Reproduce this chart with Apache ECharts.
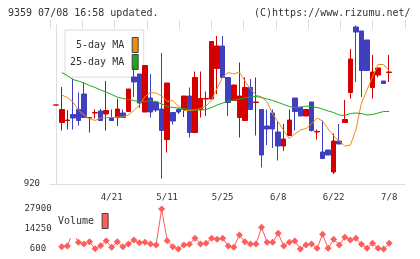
<!DOCTYPE html>
<html>
<head>
<meta charset="utf-8">
<script src="https://cdn.jsdelivr.net/npm/echarts@6/dist/echarts.min.js"></script>
<style>
html, body { margin: 0; padding: 0; background: #fff; }
#chart { width: 420px; height: 259px; }
</style>
</head>
<body>
<div id="chart"></div>
<script>
// trading days shown on the chart (index = x position)
const dates = [
    '4/7', '4/8', '4/9', '4/10', '4/13', '4/14', '4/15', '4/16', '4/17', '4/20',
    '4/21', '4/22', '4/23', '4/24', '4/27', '4/28', '4/30', '5/1', '5/7', '5/8',
    '5/11', '5/12', '5/13', '5/14', '5/15', '5/18', '5/19', '5/20', '5/21', '5/22',
    '5/25', '5/26', '5/27', '5/28', '5/29', '6/1', '6/2', '6/3', '6/4', '6/5',
    '6/8', '6/9', '6/10', '6/11', '6/12', '6/15', '6/16', '6/17', '6/18', '6/19',
    '6/22', '6/23', '6/24', '6/25', '6/26', '6/29', '6/30', '7/1', '7/2', '7/3',
    '7/8'
];
const labelDays = [10, 20, 30, 40, 50, 60];

// [open, close, low, high]
const candles = [
    [1078, 1078, 1078, 1078], [1043, 1069, 1027, 1114], [1047, 1048, 1029, 1068], [1059, 1052, 1029, 1131],
    [1069, 1047, 1037, 1103], [1100, 1053, 1053, 1123], [1052, 1053, 1023, 1053], [1062, 1063, 1051, 1069],
    [1066, 1047, 1047, 1070], [1060, 1067, 1027, 1126], [1053, 1047, 1047, 1069], [1053, 1070, 1036, 1091],
    [1062, 1053, 1053, 1069], [1065, 1110, 1065, 1110], [1134, 1124, 1094, 1156], [1140, 1082, 1072, 1140],
    [1064, 1157, 1064, 1157], [1092, 1064, 1053, 1140], [1084, 1068, 1064, 1084], [1070, 1027, 931, 1182],
    [1009, 1122, 983, 1122], [1063, 1046, 1039, 1063], [1069, 1064, 1060, 1072], [1069, 1096, 1054, 1096],
    [1096, 1023, 1013, 1113], [1023, 1133, 1023, 1145], [1069, 1091, 1053, 1145], [1090, 1091, 1056, 1105],
    [1090, 1205, 1090, 1205], [1151, 1196, 1100, 1216], [1196, 1133, 1133, 1216], [1133, 1083, 1056, 1133],
    [1087, 1118, 1087, 1118], [1053, 1096, 1013, 1163], [1047, 1113, 1047, 1133], [1113, 1069, 1069, 1130],
    [1083, 1084, 1017, 1133], [1069, 978, 953, 1069], [1036, 1030, 998, 1069], [1062, 1030, 992, 1069],
    [1024, 996, 967, 1044], [996, 1010, 986, 1040], [1017, 1048, 1017, 1069], [1092, 1065, 1027, 1092],
    [1074, 1056, 1056, 1074], [1056, 1069, 1056, 1069], [1084, 1027, 1025, 1084], [1024, 1025, 1009, 1029],
    [984, 971, 971, 1047], [988, 978, 978, 988], [944, 1006, 940, 1021], [1006, 1000, 1000, 1040],
    [1043, 1049, 1043, 1088], [1103, 1170, 1091, 1190], [1234, 1224, 1124, 1237], [1226, 1147, 1094, 1226],
    [1208, 1147, 1147, 1208], [1113, 1144, 1091, 1178], [1138, 1152, 1133, 1152], [1126, 1121, 1121, 1126],
    [1143, 1144, 1124, 1178]
];

const ma5 = [
    null, 1098, 1093, 1084, 1068, 1058, 1051, 1047, 1052, 1053, 1053, 1054, 1054, 1058, 1067, 1078,
    1095, 1103, 1102, 1096, 1085, 1087, 1076, 1067, 1067, 1068, 1071, 1076, 1088, 1112, 1134,
    1143, 1140, 1144, 1126, 1110, 1098, 1094, 1084, 1060, 1044, 1027, 1011, 1020, 1028, 1031,
    1040, 1052, 1046, 1030, 1016, 1006, 996, 998, 1028, 1082, 1108, 1134, 1159, 1159, 1146
];
const ma25 = [
    null, 1143, 1137, 1129, 1126, 1122, 1117, 1113, 1108, 1104, 1099, 1094, 1091, 1089, 1087, 1084,
    1085, 1087, 1085, 1080, 1075, 1073, 1072, 1071, 1069, 1068, 1068, 1069, 1073, 1078, 1082,
    1086, 1088, 1090, 1092, 1094, 1095, 1093, 1090, 1087, 1083, 1079, 1075, 1073, 1073, 1076,
    1075, 1073, 1070, 1066, 1063, 1058, 1057, 1061, 1062, 1061, 1058, 1059, 1062, 1065, 1065
];
const volume = [
    null, 2200, 2650, 12200, 5170, 4010, 5580, 700, 2850, 6260, 1760, 5580, 2170, 4010, 6740, 4900,
    5170, 4010, 3330, 27900, 6260, 2170, 650, 3330, 3810, 7900, 4010, 4490, 7900, 7220, 7900,
    2650, 1760, 10150, 5580, 4010, 4010, 15400, 5170, 5170, 11300, 2650, 5170, 6060, 650, 3330,
    4010, 1080, 10630, 1080, 7220, 3330, 8590, 6740, 7900, 3810, 1080, 4490, 1080, 650, 4490
];

const priceTicks = [920];
const volumeTicks = [600, 14250, 27900];

const upColor = '#d40000';
const downColor = '#3f3fc0';
const mono = 'DejaVu Sans Mono';
const axisGray = '#dddddd';

const xMin = -1.12, xMax = 62.85;

option = {
    backgroundColor: '#fff',
    animation: false,
    textStyle: {fontFamily: mono},
    title: [
        {
            text: '9359 07/08 16:58 updated.',
            left: 8, top: 8, padding: 0,
            textStyle: {fontSize: 10, fontWeight: 'normal', color: '#333', fontFamily: mono},
        }, {
            text: '(C)https://www.rizumu.net/',
            left: 254, top: 8, padding: 0,
            textStyle: {fontSize: 10, fontWeight: 'normal', color: '#333', fontFamily: mono},
        }
    ],
    legend: [
        {
            data: ['5-day MA', '25-day MA'],
            orient: 'vertical',
            left: 65, top: 30, z: 1,
            align: 'right',
            icon: 'rect',
            itemWidth: 6, itemHeight: 15, itemGap: 1,
            padding: [7, 5, 7, 5],
            backgroundColor: '#fff',
            borderColor: axisGray, borderWidth: 1,
            itemStyle: {borderColor: '#444', borderWidth: 1},
            textStyle: {fontSize: 10, color: '#333', fontFamily: mono, padding: [0, 3, 0, 0]},
        }, {
            data: ['Volume'],
            left: 54, top: 205,
            align: 'right',
            icon: 'rect',
            itemWidth: 6, itemHeight: 15,
            padding: [8, 6, 9, 4],
            backgroundColor: '#fff',
            itemStyle: {borderColor: '#444', borderWidth: 1},
            textStyle: {fontSize: 10, color: '#333', fontFamily: mono, padding: [0, 3, 0, 0]},
        }
    ],
    grid: [
        {left: 50, right: 15, top: 25, bottom: 75},
        {left: 50, right: 15, top: 209, bottom: 10},
    ],
    xAxis: [
        {
            type: 'value', gridIndex: 0, min: xMin, max: xMax,
            axisLine: {show: true, lineStyle: {color: axisGray}},
            axisTick: {show: false},
            splitLine: {show: false},
            axisLabel: {
                customValues: labelDays,
                formatter: v => dates[v],
                fontSize: 9, color: '#333', margin: 9, fontFamily: mono,
            },
        }, {
            // evenly spaced grid ticks of the original chart
            type: 'value', gridIndex: 0, min: 0, max: 11, interval: 1,
            offset: -4,
            axisLine: {show: false},
            axisTick: {show: true, length: 9, lineStyle: {color: axisGray}},
            axisLabel: {show: false},
            splitLine: {show: false},
        }, {
            type: 'value', gridIndex: 1, min: xMin, max: xMax, show: false,
            splitLine: {show: false},
        }
    ],
    yAxis: [
        {
            type: 'value', gridIndex: 0, min: 920, max: 1238,
            axisLine: {show: true, lineStyle: {color: axisGray}},
            axisTick: {show: true, length: 5, customValues: priceTicks, lineStyle: {color: axisGray}},
            axisLabel: {customValues: priceTicks, fontSize: 9, color: '#333', margin: 10, fontFamily: mono},
            splitLine: {show: false},
        }, {
            type: 'value', gridIndex: 1, min: 600, max: 27900,
            axisLine: {show: false},
            axisTick: {show: false},
            axisLabel: {
                customValues: volumeTicks,
                formatter: v => String(v),
                align: 'center',
                fontSize: 9, color: '#333', margin: 12, fontFamily: mono,
            },
            splitLine: {show: false},
        }
    ],
    series: [
        {
            name: 'Price',
            type: 'candlestick',
            xAxisIndex: 0, yAxisIndex: 0,
            barWidth: 5,
            encode: {x: 0, y: [1, 2, 3, 4]},
            itemStyle: {
                color: upColor, color0: downColor,
                borderColor: upColor, borderColor0: downColor,
                borderWidth: 1,
            },
            data: candles.map((c, i) => [i, ...c]),
        }, {
            name: '5-day MA',
            type: 'line',
            xAxisIndex: 0, yAxisIndex: 0,
            showSymbol: false,
            itemStyle: {color: '#f08c10'},
            lineStyle: {width: 1, color: '#f08c10'},
            data: ma5.map((v, i) => [i, v]),
        }, {
            name: '25-day MA',
            type: 'line',
            xAxisIndex: 0, yAxisIndex: 0,
            showSymbol: false,
            itemStyle: {color: '#1ea81e'},
            lineStyle: {width: 1, color: '#1ea81e'},
            data: ma25.map((v, i) => [i, v]),
        }, {
            name: 'Volume',
            type: 'line',
            xAxisIndex: 2, yAxisIndex: 1,
            symbol: 'diamond', symbolSize: 7,
            clip: false,
            itemStyle: {color: '#ff5c5c'},
            lineStyle: {width: 1, color: '#ff5c5c'},
            data: volume.map((v, i) => [i, v]),
        }
    ]
};

dom = document.getElementById('chart');
chart = echarts.init(dom);
chart.setOption(option);
</script>
</body>
</html>
